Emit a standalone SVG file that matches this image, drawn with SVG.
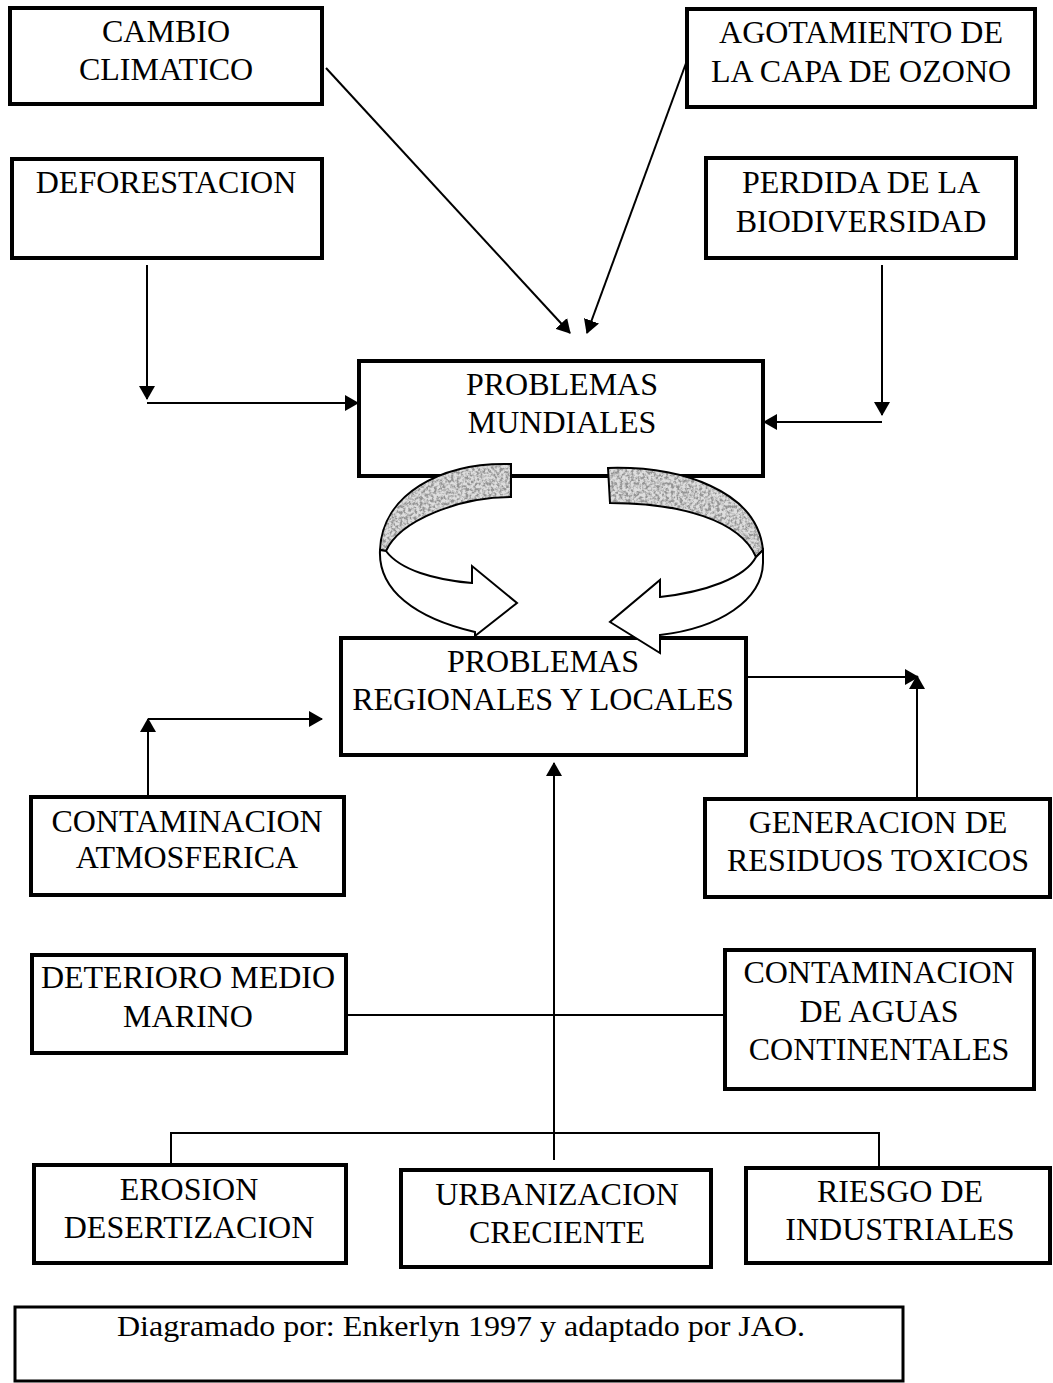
<svg xmlns="http://www.w3.org/2000/svg" width="1053" height="1383" viewBox="0 0 1053 1383">
<style>
.box{fill:#fff;stroke:#000;stroke-width:4}
.cap{fill:#fff;stroke:#000;stroke-width:3}
.t{font-family:"Liberation Serif","Times New Roman",serif;font-size:32px;fill:#000;text-anchor:middle}
.tc{font-family:"Liberation Serif","Times New Roman",serif;font-size:30px;fill:#000;text-anchor:middle}
.ln{fill:none;stroke:#000;stroke-width:2}
.arr{fill:none;stroke:#000;stroke-width:2;marker-end:url(#ah)}
.ring{fill:#fff;stroke:#000;stroke-width:2}
.band{fill:#dedede;filter:url(#grain)}
.bandline{fill:none;stroke:#000;stroke-width:2}
</style>
<defs>
<marker id="ah" viewBox="0 0 14 16" refX="13" refY="8" markerWidth="14" markerHeight="16" markerUnits="userSpaceOnUse" orient="auto">
<path d="M0,0 L14,8 L0,16 z" fill="#000"/>
</marker>
<filter id="grain" x="-0.05" y="-0.05" width="1.1" height="1.1">
<feTurbulence type="fractalNoise" baseFrequency="0.35" numOctaves="3" seed="7" result="n"/>
<feColorMatrix in="n" type="matrix" values="0 0 0 0 0.3  0 0 0 0 0.3  0 0 0 0 0.3  0 0 0 -3.2 2.0" result="g"/>
<feComposite in="g" in2="SourceGraphic" operator="in" result="gc"/>
<feMerge><feMergeNode in="SourceGraphic"/><feMergeNode in="gc"/></feMerge>
</filter>
</defs>
<rect width="1053" height="1383" fill="#fff"/>

<g id="connectors">
<line class="arr" x1="326" y1="68" x2="570" y2="333"/>
<line class="arr" x1="689" y1="55" x2="587" y2="333"/>
<line class="arr" x1="147" y1="265" x2="147" y2="399"/>
<line class="arr" x1="147" y1="403" x2="358" y2="403"/>
<line class="arr" x1="882" y1="265" x2="882" y2="415"/>
<line class="arr" x1="882" y1="422" x2="764" y2="422"/>
<line class="arr" x1="148" y1="797" x2="148" y2="719"/>
<line class="arr" x1="148" y1="719" x2="322" y2="719"/>
<line class="arr" x1="746" y1="677" x2="918" y2="677"/>
<line class="arr" x1="917" y1="797" x2="917" y2="676"/>
<line class="arr" x1="554" y1="1160" x2="554" y2="763"/>
<line class="ln" x1="346" y1="1015" x2="725" y2="1015"/>
<polyline class="ln" points="171,1165 171,1133 879,1133 879,1168"/>
</g>

<g id="cambio">
<rect class="box" x="10" y="8" width="312" height="96"/>
<text class="t" x="166" y="42">CAMBIO</text>
<text class="t" x="166" y="80">CLIMATICO</text>
</g>
<g id="agotamiento">
<rect class="box" x="687" y="9" width="348" height="98"/>
<text class="t" x="861" y="43">AGOTAMIENTO DE</text>
<text class="t" x="861" y="82">LA CAPA DE OZONO</text>
</g>
<g id="deforestacion">
<rect class="box" x="12" y="159" width="310" height="99"/>
<text class="t" x="166" y="193">DEFORESTACION</text>
</g>
<g id="perdida">
<rect class="box" x="706" y="158" width="310" height="100"/>
<text class="t" x="861" y="193">PERDIDA DE LA</text>
<text class="t" x="861" y="232">BIODIVERSIDAD</text>
</g>
<g id="mundiales">
<rect class="box" x="359" y="361" width="404" height="115"/>
<text class="t" x="562" y="395">PROBLEMAS</text>
<text class="t" x="562" y="433">MUNDIALES</text>
</g>
<g id="regionales">
<rect class="box" x="341" y="638" width="405" height="117"/>
<text class="t" x="543" y="672">PROBLEMAS</text>
<text class="t" x="543" y="710">REGIONALES Y LOCALES</text>
</g>

<g id="cycle">
<path class="band" d="M511,464 C440,462 382,495 380,550 L386,551 C400,520 460,497 511,497 Z"/>
<path class="bandline" d="M511,464 C440,462 382,495 380,550 L386,551 C400,520 460,497 511,497 Z"/>
<path class="ring" d="M380,550 C378,590 415,618 475,632 L475,636 L517,603 L472,566 L472,583 C435,580 400,570 386,551 Z"/>
<path class="band" d="M608,468 C680,466 757,490 763,550 L756,557 C740,520 680,503 610,503 Z"/>
<path class="bandline" d="M608,468 C680,466 757,490 763,550 L756,557 C740,520 680,503 610,503 Z"/>
<path class="ring" d="M763,550 L763,563 C762,600 720,628 660,635 L660,653 L610,622 L660,580 L660,597 C705,592 745,578 756,557 Z"/>
</g>

<g id="atmosferica">
<rect class="box" x="31" y="797" width="313" height="98"/>
<text class="t" x="187" y="832">CONTAMINACION</text>
<text class="t" x="187" y="868">ATMOSFERICA</text>
</g>
<g id="residuos">
<rect class="box" x="705" y="799" width="345" height="98"/>
<text class="t" x="878" y="833">GENERACION DE</text>
<text class="t" x="878" y="871">RESIDUOS TOXICOS</text>
</g>
<g id="marino">
<rect class="box" x="32" y="955" width="314" height="98"/>
<text class="t" x="188" y="988">DETERIORO MEDIO</text>
<text class="t" x="188" y="1027">MARINO</text>
</g>
<g id="aguas">
<rect class="box" x="725" y="950" width="309" height="139"/>
<text class="t" x="879" y="983">CONTAMINACION</text>
<text class="t" x="879" y="1022">DE AGUAS</text>
<text class="t" x="879" y="1060">CONTINENTALES</text>
</g>
<g id="erosion">
<rect class="box" x="34" y="1165" width="312" height="98"/>
<text class="t" x="189" y="1200">EROSION</text>
<text class="t" x="189" y="1238">DESERTIZACION</text>
</g>
<g id="urbanizacion">
<rect class="box" x="401" y="1170" width="310" height="97"/>
<text class="t" x="557" y="1205">URBANIZACION</text>
<text class="t" x="557" y="1243">CRECIENTE</text>
</g>
<g id="riesgo">
<rect class="box" x="746" y="1168" width="304" height="95"/>
<text class="t" x="900" y="1202">RIESGO DE</text>
<text class="t" x="900" y="1240">INDUSTRIALES</text>
</g>
<g id="caption">
<rect class="cap" x="15" y="1307" width="888" height="74"/>
<text class="tc" x="461" y="1336" textLength="688" lengthAdjust="spacingAndGlyphs">Diagramado por: Enkerlyn 1997 y adaptado por JAO.</text>
</g>
</svg>
